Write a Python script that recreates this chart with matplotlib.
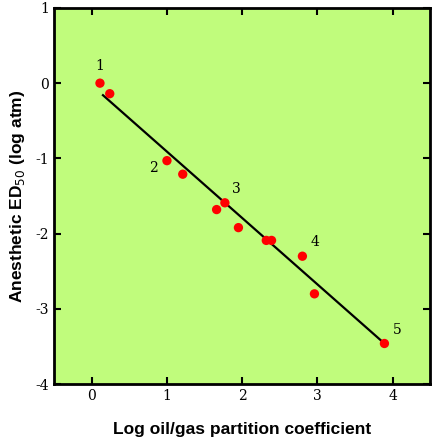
import matplotlib.pyplot as plt
import numpy as np

plt.rcParams['axes.unicode_minus'] = False

log_pc = [0.11, 0.24, 1.00, 1.21, 1.66, 1.77, 1.95, 2.32, 2.39, 2.80, 2.96, 3.89]
log_ed50 = [0.00, -0.14, -1.03, -1.21, -1.68, -1.59, -1.92, -2.09, -2.09, -2.30, -2.80, -3.46]
labels = {0: '1', 2: '2', 5: '3', 9: '4', 11: '5'}
fit_x = [0.15, 3.89]
fit_y = [-0.16, -3.46]

fig = plt.figure(figsize=(4.36, 4.40), dpi=100)
ax = fig.add_axes([0.124, 0.127, 0.863, 0.855])
ax.set_facecolor('#c0fc7c')
ax.plot(fit_x, fit_y, color='black', lw=1.6, zorder=2)
ax.scatter(log_pc, log_ed50, s=45, color='#ff0000', zorder=3, edgecolors='none')
offs = {'1': (0, 12), '2': (-10, -5), '3': (8, 10), '4': (9, 10), '5': (9, 10)}
for i, t in labels.items():
    dx, dy = offs[t]
    ax.annotate(t, (log_pc[i], log_ed50[i]), xytext=(dx, dy), textcoords='offset points',
                ha='center', va='center', fontsize=10, family='DejaVu Serif')
ax.set_xlim(-0.5, 4.5)
ax.set_ylim(-4, 1)
ax.set_xticks([0, 1, 2, 3, 4])
ax.set_yticks([-4, -3, -2, -1, 0, 1])
ax.tick_params(direction='in', length=5, width=1.5, top=True, right=True, labelsize=10)
for lab in ax.get_xticklabels() + ax.get_yticklabels():
    lab.set_family('DejaVu Serif')
for s in ax.spines.values():
    s.set_linewidth(2)
ax.set_xlabel('Log oil/gas partition coefficient', fontsize=12.5, fontweight='bold',
              labelpad=14, family='Liberation Sans')
ax.set_ylabel('Anesthetic ED$_{50}$ (log atm)', fontsize=12.5, fontweight='bold',
              labelpad=6, family='Liberation Sans')
fig.savefig('out.png', dpi=100)
